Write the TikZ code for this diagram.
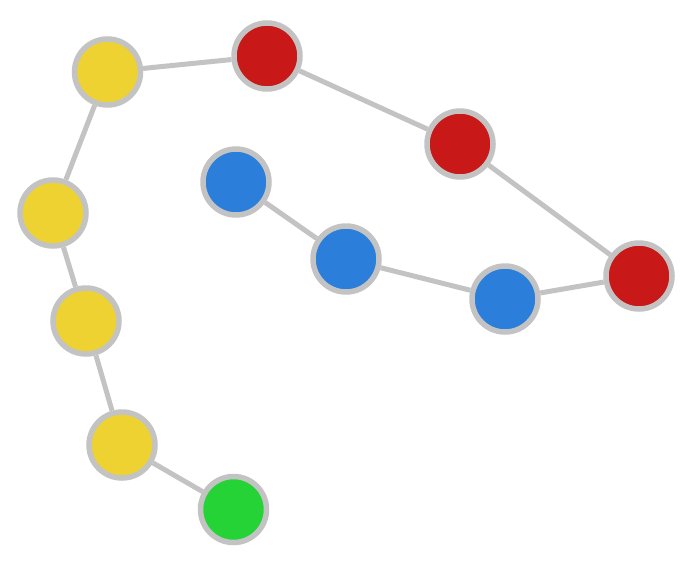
\documentclass[tikz,border=0pt]{standalone}
\definecolor{ygold}{RGB}{237,210,50}
\definecolor{rred}{RGB}{200,24,24}
\definecolor{bblue}{RGB}{43,127,219}
\definecolor{ggreen}{RGB}{38,211,54}
\definecolor{rim}{RGB}{195,195,195}
\begin{document}
\begin{tikzpicture}[x=1pt,y=-1pt,
  dot/.style={circle,draw=rim,line width=5.5pt,minimum size=66pt,inner sep=0pt},
  link/.style={draw=rim,line width=5pt}]
\useasboundingbox (0,0) rectangle (692,570);
\node[dot,fill=ygold] (y1) at (107.5,72) {};
\node[dot,fill=rred] (r1) at (267,56) {};
\node[dot,fill=rred] (r2) at (460,144) {};
\node[dot,fill=rred] (r3) at (639,276) {};
\node[dot,fill=bblue] (b3) at (505,299) {};
\node[dot,fill=bblue] (b2) at (346,259) {};
\node[dot,fill=bblue] (b1) at (236,182) {};
\node[dot,fill=ygold] (y2) at (53,213) {};
\node[dot,fill=ygold] (y3) at (86,321) {};
\node[dot,fill=ygold] (y4) at (122,445) {};
\node[dot,fill=ggreen] (g) at (233.5,509.5) {};
\path[link] (y1) -- (r1) (r1) -- (r2) (r2) -- (r3) (r3) -- (b3) (b3) -- (b2) (b2) -- (b1)
  (y1) -- (y2) (y2) -- (y3) (y3) -- (y4) (y4) -- (g);
\end{tikzpicture}
\end{document}
